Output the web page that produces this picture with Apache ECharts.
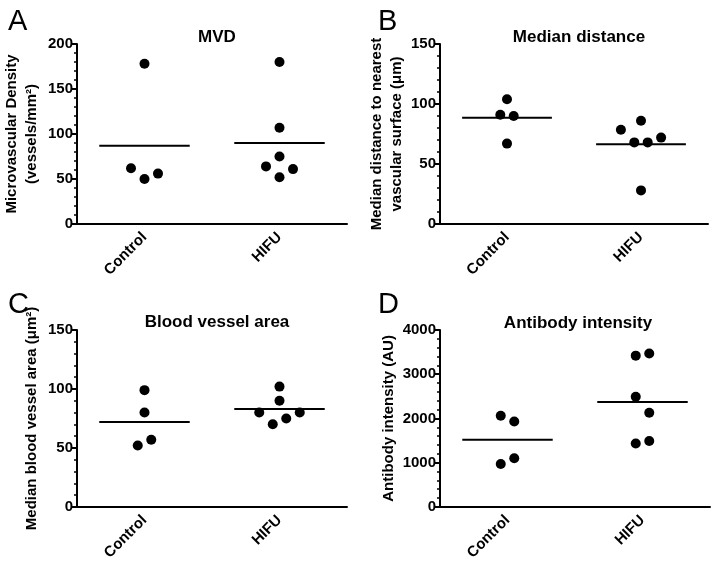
<!DOCTYPE html>
<html>
<head>
<meta charset="utf-8">
<script src="https://cdn.jsdelivr.net/npm/echarts@6/dist/echarts.min.js"></script>
<style>
  html, body { margin: 0; padding: 0; background: #fff; }
  #main { width: 715px; height: 563px; }
</style>
</head>
<body>
<div id="main"></div>
<script>
  const groups = ['Control', 'HIFU']

  // A - MVD
  const mvdCtrl = [178, 62, 50, 56]
  const mvdHifu = [180, 107, 75, 64, 61, 52]
  const mvdMean = [87, 90]
  // B - median distance
  const distCtrl = [104, 91, 90, 67]
  const distHifu = [78.5, 86, 68, 68, 72, 28]
  const distMean = [88.5, 66.5]
  // C - blood vessel area
  const areaCtrl = [99, 80, 57, 52]
  const areaHifu = [102, 90, 80, 80, 70, 75]
  const areaMean = [72, 83]
  // D - antibody intensity
  const abCtrl = [2060, 1930, 970, 1100]
  const abHifu = [3420, 3470, 2490, 2130, 1435, 1490]
  const abMean = [1517, 2372]

  // column slot of each dot (scatter spread, like the prism plot)
  const mvdCtrlJit = [0, -0.2, 0, 0.2]
  const mvdHifuJit = [0, 0, 0, -0.2, 0.2, 0]
  const distCtrlJit = [0, -0.1, 0.1, 0]
  const distHifuJit = [-0.3, 0, -0.1, 0.1, 0.3, 0]
  const areaCtrlJit = [0, 0, 0.1, -0.1]
  const areaHifuJit = [0, 0, -0.3, 0.3, -0.1, 0.1]
  const abCtrlJit = [-0.1, 0.1, -0.1, 0.1]
  const abHifuJit = [-0.1, 0.1, -0.1, 0.1, -0.1, 0.1]

  const FONT = 'Liberation Sans'
  const centers = [1, 3]   // position of each group on the hidden value axis
  const halfLine = 0.67

  let panels = [
    { letter: 'A', title: 'MVD', yName: 'Microvascular Density\n(vessels/mm²)', max: 200, step: 50,
      ctrl: mvdCtrl, hifu: mvdHifu, mean: mvdMean, cj: mvdCtrlJit, hj: mvdHifuJit,
      grid: { left: 77, top: 44, width: 270, height: 180 }, nameGap: 35,
      letterPos: [3, 2], titleX: 212, titleY: 24 },
    { letter: 'B', title: 'Median distance', yName: 'Median distance to nearest\nvascular surface (μm)', max: 150, step: 50,
      ctrl: distCtrl, hifu: distHifu, mean: distMean, cj: distCtrlJit, hj: distHifuJit,
      grid: { left: 440, top: 44, width: 268, height: 180 }, nameGap: 28,
      letterPos: [373, 2], titleX: 574, titleY: 24 },
    { letter: 'C', title: 'Blood vessel area', yName: 'Median blood vessel area (μm²)', max: 150, step: 50,
      ctrl: areaCtrl, hifu: areaHifu, mean: areaMean, cj: areaCtrlJit, hj: areaHifuJit,
      grid: { left: 77, top: 330, width: 270, height: 179 }, nameGap: 35,
      letterPos: [3, 285], titleX: 212, titleY: 309 },
    { letter: 'D', title: 'Antibody intensity', yName: 'Antibody intensity (AU)', max: 4000, step: 1000,
      ctrl: abCtrl, hifu: abHifu, mean: abMean, cj: abCtrlJit, hj: abHifuJit,
      grid: { left: 440, top: 330, width: 270, height: 179 }, nameGap: 40,
      letterPos: [373, 285], titleX: 573, titleY: 310 }
  ]

  let option = {
    backgroundColor: '#fff',
    animation: false,
    textStyle: { fontFamily: FONT },
    title: [],
    grid: [],
    xAxis: [],
    yAxis: [],
    series: []
  }

  panels.forEach((p, i) => {
    option.grid.push(Object.assign({ containLabel: false }, p.grid))
    option.title.push({
      text: p.letter, left: p.letterPos[0], top: p.letterPos[1],
      textStyle: { fontFamily: FONT, fontSize: 29, fontWeight: 'normal', color: '#000' }
    })
    option.title.push({
      text: p.title, left: p.titleX, top: p.titleY, textAlign: 'center',
      textStyle: { fontFamily: FONT, fontSize: 17, fontWeight: 'bold', color: '#000' }
    })
    // visible category axis (ticks + rotated labels)
    option.xAxis.push({
      type: 'category', gridIndex: i, data: groups,
      axisLine: { lineStyle: { color: '#000', width: 2 } },
      axisTick: { alignWithLabel: true, length: 5, lineStyle: { color: '#000', width: 2 } },
      axisLabel: { rotate: 45, margin: 11, color: '#000', fontFamily: FONT, fontSize: 15, fontWeight: 'bold' },
      splitLine: { show: false }
    })
    // hidden value axis for dots and mean lines
    option.xAxis.push({
      type: 'value', gridIndex: i, min: 0, max: 4, show: false
    })
    option.yAxis.push({
      type: 'value', gridIndex: i, min: 0, max: p.max, interval: p.step,
      name: p.yName, nameLocation: 'middle', nameGap: p.nameGap,
      nameTextStyle: { fontFamily: FONT, fontSize: 15, fontWeight: 'bold', color: '#000', lineHeight: 20 },
      axisLine: { show: true, lineStyle: { color: '#000', width: 2 } },
      axisTick: { show: true, length: 5, lineStyle: { color: '#000', width: 2 } },
      minorTick: { show: true, splitNumber: 5, length: 3, lineStyle: { color: '#000', width: 1.5 } },
      axisLabel: { margin: 4, color: '#000', fontFamily: FONT, fontSize: 15, fontWeight: 'bold',
        formatter: v => String(v) },
      splitLine: { show: false }
    })
    let pts = []
    p.ctrl.forEach((v, k) => pts.push([centers[0] + p.cj[k], v]))
    p.hifu.forEach((v, k) => pts.push([centers[1] + p.hj[k], v]))
    option.series.push({
      type: 'scatter', xAxisIndex: 2 * i + 1, yAxisIndex: i,
      symbol: 'circle', symbolSize: 10,
      itemStyle: { color: '#000', opacity: 1 },
      data: pts
    })
    p.mean.forEach((m, g) => {
      option.series.push({
        type: 'line', xAxisIndex: 2 * i + 1, yAxisIndex: i,
        symbol: 'none', silent: true,
        lineStyle: { color: '#000', width: 2 },
        data: [[centers[g] - halfLine, m], [centers[g] + halfLine, m]]
      })
    })
  })

  let chart = echarts.init(document.getElementById('main'))
  chart.setOption(option)
</script>
</body>
</html>
